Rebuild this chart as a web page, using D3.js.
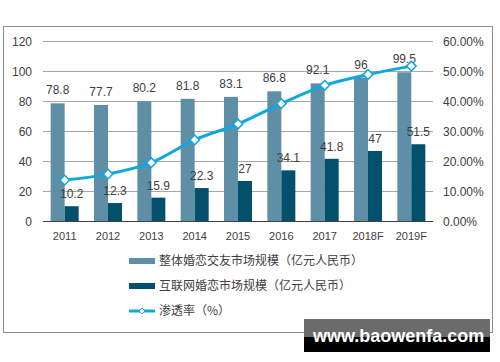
<!DOCTYPE html>
<html>
<head>
<meta charset="utf-8">
<script src="https://cdn.jsdelivr.net/npm/d3@7"></script>
<style>
  body { margin: 0; background: #fff; }
  text { font-family: "Liberation Sans", Arial, sans-serif; fill: #404040; }
  .cjk { font-family: "Noto Sans CJK SC", sans-serif; }
</style>
</head>
<body>
<div id="chart"></div>
<script>
const years = ['2011', '2012', '2013', '2014', '2015', '2016', '2017', '2018F', '2019F']
const totalMarket = [78.8, 77.7, 80.2, 81.8, 83.1, 86.8, 92.1, 96, 99.5]
const onlineMarket = [10.2, 12.3, 15.9, 22.3, 27, 34.1, 41.8, 47, 51.5]
const penetration = [13.8, 15.8, 19.6, 27.2, 32.5, 39.3, 45.4, 49.0, 51.8]
const leftTicks = [0, 20, 40, 60, 80, 100, 120]
const rightTicks = [0, 10, 20, 30, 40, 50, 60]
const legendLabels = ['整体婚恋交友市场规模（亿元人民币）', '互联网婚恋市场规模（亿元人民币）', '渗透率（%）']

const lightColor = '#5e8fa7'
const darkColor = '#02506c'
const lineColor = '#12a6df'

const W = 500, H = 362
const svg = d3.select('#chart').append('svg')
    .attr('width', W)
    .attr('height', H)

// outer frame
svg.append('rect')
    .attr('x', 3.5).attr('y', 26.5)
    .attr('width', 489).attr('height', 306)
    .attr('fill', 'none')
    .attr('stroke', '#8c8c8c')

const x = d3.scaleBand().domain(years).range([43, 433])
const y = d3.scaleLinear().domain([0, 120]).range([221.5, 41.5])
const yr = d3.scaleLinear().domain([0, 60]).range([221.5, 41.5])
const barW = 14

// gridlines
svg.append('g').selectAll('line')
    .data(leftTicks.slice(1))
    .enter()
    .append('line')
    .attr('x1', 43).attr('x2', 433)
    .attr('y1', d => y(d)).attr('y2', d => y(d))
    .attr('stroke', '#a6a6a6')

// left axis
svg.append('g')
    .attr('transform', 'translate(43,0)')
    .call(d3.axisLeft(y).tickValues(leftTicks).tickSize(0).tickPadding(11))
    .call(g => g.select('.domain').remove())
    .selectAll('text')
    .style('font-size', '12px')
    .attr('fill', '#404040')

// right axis
svg.append('g')
    .attr('transform', 'translate(433,0)')
    .call(d3.axisRight(yr).tickValues(rightTicks).tickSize(0).tickPadding(10)
        .tickFormat(d => d.toFixed(2) + '%'))
    .call(g => g.select('.domain').remove())
    .selectAll('text')
    .style('font-size', '12px')
    .attr('fill', '#404040')

// bars
const bars = svg.append('g')
bars.selectAll('.total')
    .data(years)
    .enter()
    .append('rect')
    .attr('x', (d) => x(d) + x.bandwidth() / 2 - barW)
    .attr('y', (d, i) => y(totalMarket[i]))
    .attr('width', barW)
    .attr('height', (d, i) => y(0) - y(totalMarket[i]))
    .attr('fill', lightColor)

bars.selectAll('.online')
    .data(years)
    .enter()
    .append('rect')
    .attr('x', (d) => x(d) + x.bandwidth() / 2)
    .attr('y', (d, i) => y(onlineMarket[i]))
    .attr('width', barW)
    .attr('height', (d, i) => y(0) - y(onlineMarket[i]))
    .attr('fill', darkColor)

// bottom axis
svg.append('g')
    .attr('transform', 'translate(0,221.5)')
    .call(d3.axisBottom(x).tickSize(0).tickPadding(11))
    .call(g => g.select('.domain').attr('stroke', '#404040').attr('d', 'M43,0H433'))
    .selectAll('text')
    .style('font-size', '11px')
    .attr('fill', '#404040')

// value labels
svg.append('g').selectAll('text')
    .data(years)
    .enter()
    .append('text')
    .attr('x', d => x(d) + x.bandwidth() / 2 - barW / 2)
    .attr('y', (d, i) => y(totalMarket[i]) - 9)
    .attr('text-anchor', 'middle')
    .style('font-size', '12px')
    .text((d, i) => totalMarket[i])

svg.append('g').selectAll('text')
    .data(years)
    .enter()
    .append('text')
    .attr('x', d => x(d) + x.bandwidth() / 2 + barW / 2)
    .attr('y', (d, i) => y(onlineMarket[i]) - 8)
    .attr('text-anchor', 'middle')
    .style('font-size', '12px')
    .text((d, i) => onlineMarket[i])

// penetration line
const line = d3.line()
    .x((d, i) => x(years[i]) + x.bandwidth() / 2)
    .y(d => yr(d))
    .curve(d3.curveMonotoneX)

svg.append('path')
    .datum(penetration)
    .attr('d', line)
    .attr('fill', 'none')
    .attr('stroke', lineColor)
    .attr('stroke-width', 3)

const diamond = d3.symbol().type(d3.symbolDiamond2).size(60)
svg.append('g').selectAll('path')
    .data(penetration)
    .enter()
    .append('path')
    .attr('d', diamond)
    .attr('transform', (d, i) => `translate(${x(years[i]) + x.bandwidth() / 2},${yr(d)})`)
    .attr('fill', '#fff')
    .attr('stroke', lineColor)
    .attr('stroke-width', 1.5)

// legend
const legend = svg.append('g')
const rowY = [261, 286, 311]
legendLabels.forEach((label, i) => {
    const row = legend.append('g').attr('transform', `translate(129,${rowY[i]})`)
    if (i < 2) {
        row.append('rect')
            .attr('x', 0).attr('y', -3)
            .attr('width', 26).attr('height', 6)
            .attr('fill', i === 0 ? lightColor : darkColor)
    } else {
        row.append('line')
            .attr('x1', 0).attr('x2', 26)
            .attr('stroke', lineColor)
            .attr('stroke-width', 3)
        row.append('path')
            .attr('d', d3.symbol().type(d3.symbolDiamond2).size(24))
            .attr('transform', 'translate(13,0)')
            .attr('fill', '#fff')
            .attr('stroke', lineColor)
            .attr('stroke-width', 1)
    }
    row.append('text')
        .attr('class', 'cjk')
        .attr('x', 30)
        .attr('dy', '0.35em')
        .style('font-size', '12px')
        .text(label)
})

// watermark
const wm = svg.append('g')
wm.append('rect').attr('x', 304).attr('y', 319).attr('width', 186).attr('height', 18).attr('fill', '#6b6b6b')
wm.append('rect').attr('x', 304).attr('y', 337).attr('width', 186).attr('height', 15).attr('fill', '#000')
wm.append('text')
    .attr('x', 313).attr('y', 342)
    .style('font-size', '18px')
    .style('font-weight', 'bold')
    .style('fill', '#fff')
    .text('www.baowenfa.com')
</script>
</body>
</html>
